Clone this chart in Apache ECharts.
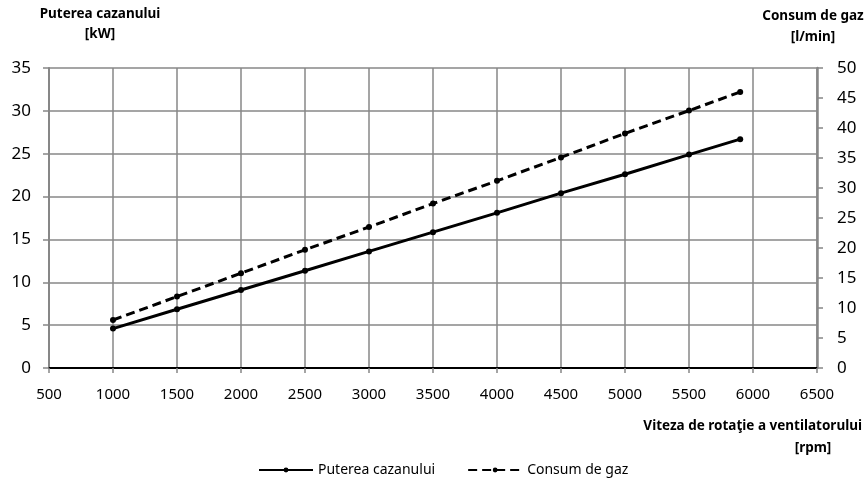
<!DOCTYPE html>
<html>
<head>
<meta charset="utf-8">
<script src="https://cdn.jsdelivr.net/npm/echarts@6/dist/echarts.min.js"></script>
<style>
    html, body { margin: 0; padding: 0; background: #fff; }
    #chart { width: 865px; height: 479px; }
</style>
</head>
<body>
<div id="chart"></div>
<script>
    // viteza ventilatorului [rpm]
    var rpm = [1000, 1500, 2000, 2500, 3000, 3500, 4000, 4500, 5000, 5500, 5900];
    // puterea cazanului [kW]
    var putere = [4.6, 6.85, 9.1, 11.35, 13.6, 15.85, 18.1, 20.4, 22.6, 24.9, 26.7];
    // consum de gaz [l/min]
    var consum = [8.0, 11.9, 15.8, 19.7, 23.5, 27.4, 31.2, 35.1, 39.1, 42.9, 46.0];

    var font = '"Noto Sans", sans-serif';
    var gray = '#878787';

    function pairs(xs, ys) {
        return xs.map(function (x, i) { return [x, ys[i]]; });
    }

    // one line of axis title text
    function label(text, x, y, align) {
        return {
            type: 'text', x: x, y: y,
            style: {
                text: text, font: 'bold 13.5px ' + font, fill: '#000',
                textAlign: align || 'center', textVerticalAlign: 'middle'
            }
        };
    }

    var chart = echarts.init(document.getElementById('chart'));
    chart.setOption({
        backgroundColor: '#fff',
        animation: false,
        textStyle: { fontFamily: font, color: '#000' },
        grid: { left: 49, right: 48, top: 68, bottom: 111 },
        legend: {
            top: 458,
            left: 253,
            itemWidth: 54,
            itemHeight: 6,
            itemGap: 32,
            textStyle: { fontFamily: font, fontSize: 14, color: '#000' },
            data: ['Puterea cazanului', 'Consum de gaz']
        },
        graphic: [
            label('Puterea cazanului', 100, 14),
            label('[kW]', 100, 34),
            label('Consum de gaz', 813, 16),
            label('[l/min]', 813, 37),
            label('Viteza de rotaţie a ventilatorului', 862, 426, 'right'),
            label('[rpm]', 813, 448)
        ],
        xAxis: [
            {
                type: 'value', min: 500, max: 6500, interval: 500,
                axisLine: { show: true, lineStyle: { color: gray, width: 2 } },
                axisTick: { show: true, length: 5, lineStyle: { color: gray, width: 1.5 } },
                axisLabel: {
                    fontSize: 15, color: '#000', margin: 19, fontFamily: font,
                    formatter: function (v) { return String(v); }
                },
                splitLine: { show: true, lineStyle: { color: gray, width: 1.5 } }
            },
            {
                type: 'value', position: 'top', min: 500, max: 6500,
                axisLine: { show: true, lineStyle: { color: '#000', width: 2 } },
                axisTick: { show: false },
                axisLabel: { show: false },
                splitLine: { show: false }
            }
        ],
        yAxis: [
            {
                type: 'value', min: 0, max: 35, interval: 5, position: 'left',
                axisLine: { show: true, lineStyle: { color: gray, width: 2 } },
                axisTick: { show: true, length: 6, lineStyle: { color: gray, width: 1.5 } },
                axisLabel: { fontSize: 17, color: '#000', margin: 18, fontFamily: font },
                splitLine: { show: true, lineStyle: { color: gray, width: 1.5 } }
            },
            {
                type: 'value', min: 0, max: 50, interval: 5, position: 'right',
                axisLine: { show: true, lineStyle: { color: gray, width: 2.5 } },
                axisTick: { show: true, length: 6, lineStyle: { color: gray, width: 1.5 } },
                axisLabel: { fontSize: 17, color: '#000', margin: 20, fontFamily: font },
                splitLine: { show: false }
            }
        ],
        series: [
            {
                name: 'Puterea cazanului',
                type: 'line',
                yAxisIndex: 0,
                data: pairs(rpm, putere),
                symbol: 'circle', symbolSize: 6,
                itemStyle: { color: '#000' },
                lineStyle: { color: '#000', width: 3 }
            },
            {
                name: 'Consum de gaz',
                type: 'line',
                yAxisIndex: 1,
                data: pairs(rpm, consum),
                symbol: 'circle', symbolSize: 6,
                itemStyle: { color: '#000' },
                lineStyle: { color: '#000', width: 3, type: [9, 5] }
            }
        ]
    });
</script>
</body>
</html>
